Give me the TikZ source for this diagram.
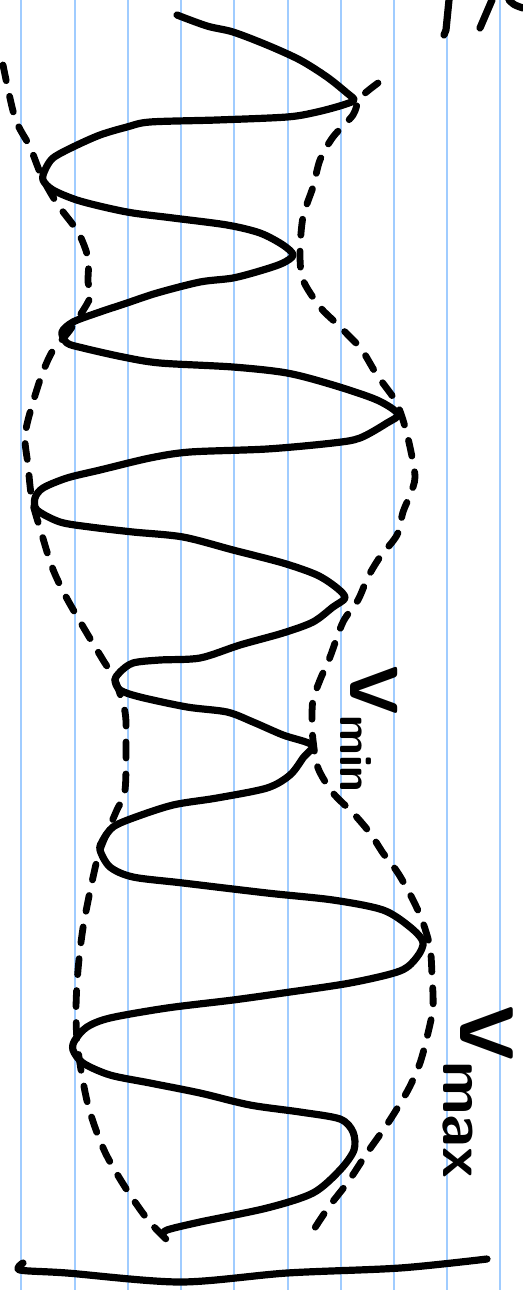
\documentclass[tikz,border=0pt]{standalone}
\usetikzlibrary{calc}
\begin{document}
\begin{tikzpicture}[x=0.5pt,y=-0.5pt,
  rule/.style={draw={rgb,255:red,160;green,204;blue,255},line width=1.2pt},
  ink/.style={draw=black,line width=3.6pt,line cap=round,line join=round},
  envelope/.style={draw=black,line width=3.4pt,line cap=round,dash pattern=on 8pt off 8pt},
  lbl/.style={rotate=-90,inner sep=0pt,anchor=base west,font=\sffamily\bfseries}]
\useasboundingbox (0,0) rectangle (523,1290);
% ruled paper
\foreach \xx in {21,75,128,181,234,288,341,394,447,500}
  \draw[rule] (\xx,0) -- (\xx,1290);
% modulated wave
\draw[ink] plot[smooth,tension=0.5] coordinates {
 (177,15) (207,26) (233,32) (267,45) (300,60) (327,77) (347,93) (354,100)
 (343,105) (317,112) (287,117) (217,120) (150,122) (127,127) (100,135) (73,147) (53,158) (45,170) (43,180)
 (53,190) (80,201) (127,212) (173,218) (227,225) (260,233) (283,245) (293,255)
 (283,263) (263,270) (233,278) (200,282) (157,293) (127,303) (97,313) (73,322) (62,332)
 (67,343) (83,348) (123,357) (160,363) (233,367) (287,373) (333,385) (377,400) (398,414)
 (387,423) (360,438) (333,443) (267,449) (190,452) (150,458) (100,470) (67,478) (43,488) (35,498)
 (37,510) (60,522) (90,527) (133,532) (183,537) (233,550) (283,563) (317,575) (337,588) (345,598)
 (333,607) (313,622) (283,633) (240,645) (200,658) (160,660) (133,663) (120,672) (115,680)
 (120,690) (140,697) (187,707) (227,712) (253,722) (283,735) (312,745)
 (303,758) (290,775) (267,788) (217,798) (173,805) (133,818) (113,827) (103,840) (100,850)
 (110,867) (133,877) (183,883) (267,893) (333,900) (383,910) (410,927) (423,942)
 (417,957) (400,971) (350,983) (283,993) (233,1000) (167,1008) (110,1018) (87,1027) (75,1040) (73,1050)
 (83,1063) (110,1075) (150,1083) (200,1093) (250,1105) (300,1112) (340,1119) (353,1132)
 (354,1150) (340,1170) (313,1193) (267,1208) (200,1222) (167,1230) (163,1235)};
% left envelope
\draw[envelope] plot[smooth,tension=0.5] coordinates {
 (3,65) (15,118) (30,147) (42,177) (58,205) (78,232) (88,258) (88,282) (90,298)
 (70,330) (52,352) (40,380) (28,420) (25,440) (28,465) (32,500) (42,535) (52,567) (65,595)
 (85,630) (103,660) (115,680) (125,712) (126,740) (125,790) (116,812) (100,850)
 (92,882) (83,928) (78,970) (76,1010) (78,1050) (88,1105) (104,1150) (125,1187) (148,1220) (167,1240)};
% right envelope
\draw[envelope] plot[smooth,tension=0.5] coordinates {
 (378,83) (360,98) (353,115) (333,137) (320,160) (313,187) (303,217) (300,253) (303,280)
 (320,307) (335,322) (350,337) (362,350) (377,375) (395,400) (403,420) (410,447) (415,477)
 (410,495) (403,512) (397,535) (380,557) (368,577) (358,600) (343,622) (330,657) (320,680)
 (313,700) (312,720) (313,740) (318,768) (333,793) (353,813) (370,833) (383,853) (398,873)
 (412,898) (422,920) (430,947) (432,975) (433,1007) (428,1033) (420,1063) (408,1090)
 (388,1123) (367,1153) (348,1182) (328,1208) (307,1240)};
% axis line
\draw[ink] plot[smooth,tension=0.5] coordinates {
 (23,1263) (20,1270) (67,1273) (180,1282) (287,1273) (400,1268) (487,1259)};
% marks at top right
\draw[ink] (449,0) -- (446,30) -- (444,35);
\draw[ink] (480,28) -- (492,0);
\draw[ink] (509,0) .. controls (514,5) .. (523,8);
% labels
\node[lbl] (vmin) at (350,665) {\fontsize{34}{34}\selectfont V\raisebox{-5pt}{\fontsize{23}{23}\selectfont min}};
\node[lbl] (vmax) at (460,1005) {\fontsize{38}{38}\selectfont V\raisebox{-8.5pt}{\fontsize{31}{31}\selectfont max}};
\end{tikzpicture}
\end{document}
